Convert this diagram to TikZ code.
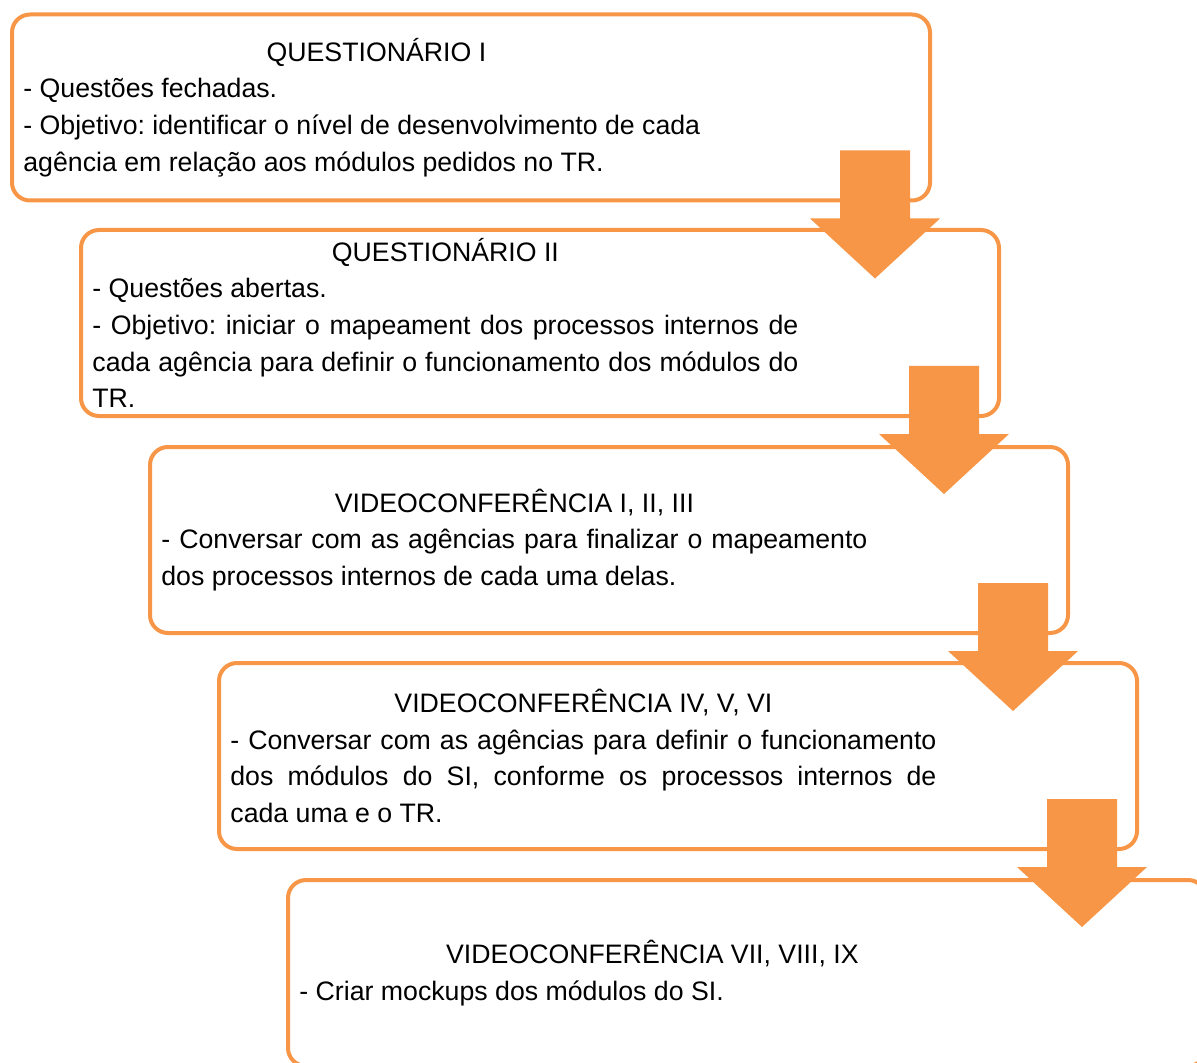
\documentclass[tikz,border=0pt]{standalone}
\usepackage{fontspec}
\setmainfont{Liberation Sans}
\usetikzlibrary{calc}
\definecolor{steporange}{RGB}{247,150,70}

\newlength{\stagewidth}
\setlength{\stagewidth}{353pt}
\newcommand{\titleline}[1]{\makebox[\stagewidth][c]{#1}}

\tikzset{
  stagebox/.style={draw=steporange, line width=2pt, rounded corners=9pt,
    minimum width=459pt, minimum height=93pt, inner sep=0pt},
  stagetext/.style={anchor=west, inner sep=0pt, text width=\stagewidth,
    align=justify, font=\fontsize{13.35}{18.35}\selectfont\frenchspacing},
}

\begin{document}
\begin{tikzpicture}[x=0.5pt, y=-0.5pt]
  \clip (0,0) rectangle (1197,1063);

  % Stage boxes
  \node[stagebox] (b1) at (471,107.5) {};
  \node[stagebox] (b2) at (540,323) {};
  \node[stagebox] (b3) at (609,540) {};
  \node[stagebox] (b4) at (678,756) {};
  \node[stagebox] (b5) at (747,973) {};

  % Box texts
  \node[stagetext] (t1) at ($(b1.west)+(13,0)$) {
    \titleline{QUESTIONÁRIO I}\\
    - Questões fechadas.\\
    - Objetivo: identificar o nível de desenvolvimento de cada\\
    agência em relação aos módulos pedidos no TR.
  };
  \node[stagetext] (t2) at ($(b2.west)+(13,0)$) {
    \titleline{QUESTIONÁRIO II}\\
    - Questões abertas.\\
    - Objetivo: iniciar o mapeament dos processos internos de\linebreak
    cada agência para definir o funcionamento dos módulos do\linebreak
    TR.
  };
  \node[stagetext] (t3) at ($(b3.west)+(13,0)$) {
    \titleline{VIDEOCONFERÊNCIA I, II, III}\\
    - Conversar com as agências para finalizar o mapeamento\linebreak
    dos processos internos de cada uma delas.
  };
  \node[stagetext] (t4) at ($(b4.west)+(13,0)$) {
    \titleline{VIDEOCONFERÊNCIA IV, V, VI}\\
    - Conversar com as agências para definir o funcionamento\linebreak
    dos módulos do SI, conforme os processos internos de\linebreak
    cada uma e o TR.
  };
  \node[stagetext] (t5) at ($(b5.west)+(13,0)$) {
    \titleline{VIDEOCONFERÊNCIA VII, VIII, IX}\\
    - Criar mockups dos módulos do SI.
  };

  % Block arrows between stages
  \foreach \a in {b1,b2,b3,b4}
    \fill[steporange] ($(\a.south east)+(-92,-52)$) -- ($(\a.south east)+(-22,-52)$)
      -- ($(\a.south east)+(-22,16)$) -- ($(\a.south east)+(8,16)$)
      -- ($(\a.south east)+(-57,76)$) -- ($(\a.south east)+(-122,16)$)
      -- ($(\a.south east)+(-92,16)$) -- cycle;
\end{tikzpicture}
\end{document}
